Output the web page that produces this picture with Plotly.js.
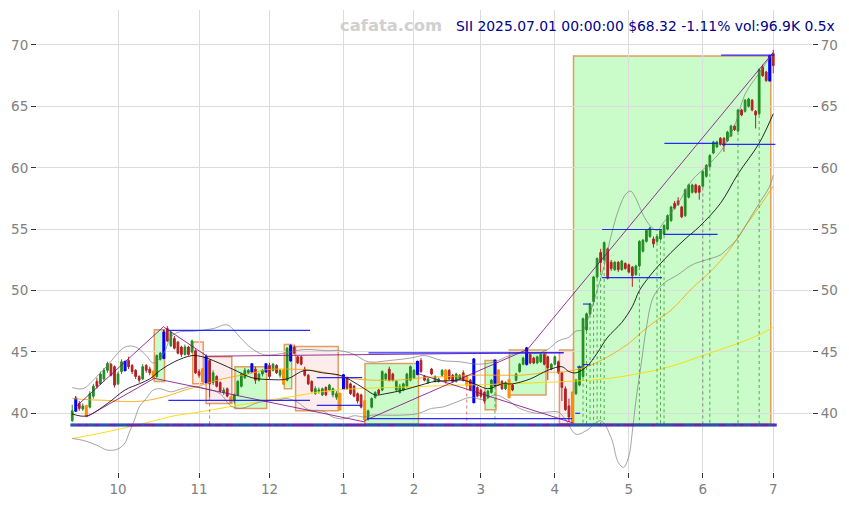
<!DOCTYPE html>
<html><head><meta charset="utf-8">
<script src="https://cdn.plot.ly/plotly-3.0.1.min.js"></script>
<style>html,body{margin:0;padding:0;background:#fff}#chart{width:849px;height:505px}</style>
</head><body><div id="chart"></div>
<script>
// ---- month ticks (trading-day index) ----
const tickPos = [13,36,56,77,97,116,137,158,179,199];
const tickText = ['10','11','12','1','2','3','4','5','6','7'];

// ---- daily OHLC (index 0 = 2024-09-12 ... 199 = 2025-07-01) ----
const opens = [39.4,40.2,40.8,40.35,40.6,40.5,41.4,42.6,42.4,42.8,43.5,44.0,43.8,42.4,43.4,43.5,44.3,43.9,43.5,43.0,
42.8,43.9,43.6,43.4,43.0,44.4,44.5,46.9,45.5,46.1,45.8,45.4,44.8,45.4,45.0,45.1,43.4,43.6,42.5,44.3,
42.5,43.0,42.5,41.7,42.0,41.3,41.0,41.5,42.2,42.9,43.3,43.4,43.6,42.7,43.2,43.4,43.9,43.5,43.9,43.1,
43.5,42.7,44.3,45.4,44.6,44.6,43.6,43.1,42.6,41.6,41.8,41.5,42.1,41.9,41.5,41.3,41.6,42.0,42.9,42.4,
42.2,41.6,41.5,41.0,39.6,40.5,41.3,41.9,41.9,42.8,43.6,43.2,41.9,41.7,41.9,42.2,42.7,42.9,43.2,44.3,
43.0,42.5,43.6,42.6,42.6,43.1,43.5,43.5,43.1,42.6,42.8,43.3,43.0,42.7,40.9,42.1,41.9,41.7,41.3,41.7,
42.3,43.5,42.6,42.0,42.7,42.3,42.7,43.4,44.0,44.0,44.8,44.5,44.1,44.2,44.8,44.6,43.6,44.0,44.2,43.3,
42.0,40.6,39.3,41.6,42.3,43.0,46.8,48.1,49.1,51.1,53.1,52.5,53.4,52.3,51.7,52.3,51.7,52.2,52.1,51.9,
51.3,52.0,53.2,54.0,54.4,54.2,54.0,54.2,54.6,55.0,55.7,57.1,57.3,56.8,56.1,57.6,58.0,58.6,58.5,58.5,
59.3,60.1,61.2,61.7,62.4,62.4,62.2,62.6,63.4,63.0,64.7,64.6,65.0,65.5,64.6,64.4,68.2,67.8,67.1,69.3];
const highs = [40.7,41.4,41.0,40.8,40.7,41.8,42.4,42.9,43.4,43.7,44.2,44.1,43.9,43.4,44.4,44.3,44.6,44.0,43.6,43.1,
44.0,44.0,43.8,43.5,44.8,45.0,46.8,47.1,46.7,46.3,45.9,45.5,45.6,45.5,46.0,45.2,43.6,43.7,44.8,44.4,
43.5,43.1,42.6,42.1,42.1,41.4,41.6,42.7,43.3,43.7,43.6,44.1,43.8,43.3,43.6,44.1,44.1,44.1,44.0,43.6,
43.6,45.4,45.6,45.6,44.7,44.7,43.8,43.2,42.7,42.2,42.1,42.1,42.2,42.4,42.1,41.8,41.7,43.2,43.0,42.5,
42.3,41.7,41.6,41.1,40.3,41.3,41.8,42.0,43.5,43.3,43.8,43.3,42.7,42.4,42.5,43.3,43.9,43.6,44.3,44.5,
43.1,42.9,43.7,43.1,42.9,43.6,43.6,43.6,43.2,43.3,43.2,43.5,43.1,42.8,44.5,42.2,42.0,41.8,41.9,42.8,
44.4,43.6,42.7,42.6,42.8,42.4,43.3,44.1,44.6,45.4,44.9,44.6,44.7,44.9,44.9,44.7,44.1,44.7,44.3,43.4,
42.2,41.2,41.8,42.8,43.9,47.8,48.2,49.0,51.2,52.7,53.4,54.0,53.5,52.5,52.4,52.4,52.5,52.3,52.2,52.0,
52.1,54.1,54.2,55.0,55.2,54.4,54.6,55.0,55.4,56.2,56.9,57.3,57.6,56.9,58.3,58.7,58.7,58.7,58.6,59.8,
60.3,61.1,62.2,62.2,62.5,62.5,63.0,63.5,63.5,64.8,64.8,65.6,65.7,65.6,64.7,68.1,68.4,67.9,69.2,69.6];
const lows = [39.3,40.1,40.2,40.2,39.7,40.4,41.2,42.0,42.3,42.6,43.3,43.0,42.1,42.3,43.2,43.4,43.6,43.2,42.8,42.5,
42.7,43.3,43.1,42.8,42.9,44.3,44.4,45.8,45.4,45.2,44.8,44.6,44.7,44.7,44.9,43.2,42.9,42.5,42.4,41.3,
42.3,42.1,41.7,41.5,41.3,40.8,40.8,41.4,42.1,42.8,43.2,43.3,42.4,42.6,43.0,43.3,42.8,43.4,43.2,42.9,
42.3,42.6,44.2,44.8,44.0,43.9,43.0,42.3,41.7,41.5,41.6,41.4,41.4,41.8,41.3,41.1,40.2,41.9,41.9,41.5,
41.3,40.8,40.4,39.3,39.4,40.4,41.2,41.5,41.8,42.7,42.6,42.6,41.8,41.6,41.8,42.1,42.6,42.8,43.1,43.3,
42.6,42.4,43.1,42.5,42.5,43.0,42.4,42.7,42.5,42.5,42.7,42.6,42.1,41.8,40.8,41.3,41.2,40.8,41.2,41.6,
42.2,42.2,41.9,41.9,41.2,41.8,42.6,43.3,43.9,43.9,44.0,44.0,44.0,44.1,43.9,42.7,43.5,43.9,43.2,41.0,
40.2,39.3,39.1,41.5,42.2,42.9,46.7,48.0,49.0,51.0,51.5,52.4,50.9,51.6,51.6,51.5,51.6,51.7,51.4,50.3,
51.2,51.9,53.1,53.9,54.3,53.5,53.9,54.1,54.5,54.9,55.6,56.6,56.9,55.9,56.0,57.5,57.9,57.9,57.4,58.4,
59.2,60.0,61.1,61.6,61.8,61.3,62.1,62.5,63.0,62.9,64.2,64.5,64.9,64.6,63.2,64.3,67.4,67.0,67.0,67.7];
const closes = [40.2,41.2,40.4,40.6,39.8,41.6,42.2,42.2,43.2,43.5,44.05,43.1,42.3,43.2,44.2,44.2,43.8,43.4,43.0,42.7,
43.8,43.5,43.3,42.9,44.7,44.9,46.6,45.9,46.6,45.3,44.9,44.8,45.4,44.8,45.9,43.3,43.1,42.6,44.6,42.4,
43.3,42.2,41.8,41.9,41.4,40.9,41.5,42.6,43.2,43.5,43.5,44.0,42.7,43.2,43.5,44.0,43.0,44.0,43.3,43.5,
42.4,45.3,45.5,44.9,44.1,44.0,43.1,42.4,41.8,42.0,41.9,42.0,41.5,42.3,42.0,41.6,40.3,43.1,42.0,41.6,
41.4,41.0,40.5,39.5,40.2,41.2,41.7,41.6,43.4,43.2,42.7,42.7,42.6,42.2,42.4,43.2,43.8,43.5,44.2,43.4,
42.7,42.8,43.2,43.0,42.8,43.5,42.6,42.8,42.6,43.2,43.1,42.7,42.3,41.9,44.4,41.4,41.4,41.0,41.8,42.7,
44.3,42.3,42.0,42.5,41.3,41.9,43.2,44.0,44.5,45.3,44.1,44.1,44.6,44.8,44.0,43.7,44.0,44.6,43.3,42.1,
40.3,39.7,41.7,42.7,43.8,47.7,48.1,48.9,51.1,52.6,52.3,53.9,51.0,51.8,52.3,51.7,52.4,51.8,51.5,51.2,
52.0,54.0,54.1,54.9,55.1,53.8,54.4,54.9,55.3,56.1,56.8,56.7,57.0,56.0,58.2,58.6,58.6,58.0,58.0,59.7,
60.2,61.0,62.1,62.1,61.9,61.8,62.9,63.4,63.1,64.7,64.3,65.5,65.6,64.7,64.3,68.0,67.5,67.1,69.09,68.32];

// ---- highlighted candles ----
const blueIdx = [1,15,26,38,51,55,62,77,98,114,120,129,198];
const orangeIdx = [4,23,37,45,60,76,83,106,112,121,124,142];

// ---- indicator lines (read at sample points) ----
const maBlackX = [0,4,10,15,19,22,25,29,34,37,40,44,47,51,56,61,66,71,76,79,83,86,89,94,99,103,107,111,115,118,122,125,130,135,139,141,143,146,149,152,156,159,161,164,167,170,174,178,184,189,195,199];
const maBlackY = [39.95,39.78,40.8,41.9,42.4,42.8,43.5,44.2,44.7,44.6,44.3,43.8,43.4,42.9,42.75,42.8,43.5,43.3,43.1,42.7,42.0,41.5,41.6,41.9,42.3,42.6,42.65,42.7,42.3,42.0,42.4,42.4,42.8,43.5,43.8,43.4,43.3,43.8,44.9,46.2,47.4,48.7,50.0,51.2,52.2,53.1,54.2,55.2,57.1,59.5,62.0,64.4];
const bbUpX = [0,3,7,10,15,18,21,23,26,28,30,35,40,44,47,50,54,58,62,66,72,76,80,84,90,96,100,105,110,115,120,124,128,132,135,138,141,143,145,147,149,151,153,155,157,158.5,160,162,164,166,168,172,176,180,184,188,191,195,199];
const bbUpY = [42.1,42.0,43.0,43.9,45.4,45.4,44.7,44.1,44.9,46.2,46.6,46.7,46.9,47.2,46.4,45.5,44.8,44.8,45.0,45.2,45.1,45.1,44.8,44.2,44.3,44.5,44.7,44.3,44.2,44.0,44.2,44.7,45.0,44.9,45.2,45.9,46.2,46.7,46.8,48.2,50.0,52.0,54.5,56.5,57.8,58.1,57.5,56.2,55.3,54.9,55.6,57.1,59.0,60.1,61.3,63.4,66.0,67.7,69.4];
const bbLoX = [0,3,7,10,13,15,16,17.6,19,21,23,25,28,30,33,35,38,42,45,48,53,58,61,64,67,71,74,77,80,83,85,89,93,98,102,105,109,113,117,120,124,127,132,135,138,140,143,146,150,153,155,156.5,158,159,160,161.5,163,165,168,172,176,180,184,186,188.5,192,195,198,199];
const bbLoY = [37.95,37.8,37.4,37.0,37.1,37.6,38.3,39.4,40.5,41.2,41.9,42.0,41.75,41.9,42.15,42.2,42.0,41.6,40.6,40.4,40.9,41.06,41.2,40.9,40.3,40.2,39.7,39.55,39.8,39.7,39.85,39.85,39.85,39.97,40.4,40.5,40.9,41.3,41.1,41.5,41.0,40.4,40.0,40.1,40.1,39.5,38.3,38.6,39.4,38.0,36.0,35.6,36.5,38.5,41.0,44.0,47.0,49.5,50.6,51.3,52.1,52.5,52.9,53.4,54.1,55.7,57.1,58.5,59.4];
const maOrangeX = [0,5,10,15,20,24,28,32,36,40,45,50,55,62,68,73,79,85,92,98,102,108,114,122,127,131,135,139,143,147,152,158,162,166,170,176,181,186,191,195,199];
const maOrangeY = [41.2,41.1,41.05,40.95,41.0,41.2,41.5,41.9,42.2,42.6,42.95,43.2,43.55,43.6,43.5,43.25,42.85,42.7,42.7,42.85,42.95,43.0,43.1,43.1,43.1,43.2,43.35,43.35,43.55,43.9,44.6,45.7,46.7,47.6,48.4,50.2,51.5,53.1,55.2,56.8,58.5];
const maYellowX = [0,10,20,29,36,44,54,63,72,80,90,100,110,118,128,137,147,155,161,167,173,179,185,190,195,199];
const maYellowY = [37.95,38.5,39.15,39.8,40.1,40.5,41.0,41.4,41.8,42.0,42.1,42.2,42.3,42.35,42.45,42.55,42.7,42.95,43.25,43.6,44.1,44.7,45.3,45.8,46.4,47.0];

// ---- trend lines [x0, y0, x1, y1] ----
const trendLines = [
  [0.9,40.5,26.1,47.1],[4,39.7,23.3,42.85],[26.1,47.0,38,44.7],[38,44.65,139.5,44.95],
  [23.3,42.85,83,39.3],[83,39.4,129.2,45.2],[98.5,43.2,142.3,39.2],[129.2,45.2,199,69.4]
];
// ---- level segments [x0, x1, y] ----
const levels = [
  [27.3,67.5,46.75],[27.3,67.5,41.06],[69.4,82.3,42.9],[69.4,82.3,40.65],
  [84.1,139.5,44.92],[83.6,141.9,39.57],[142.8,144.2,40.0],[143.3,144.7,43.77],
  [144.9,147,43.97],[145,147,48.9],[150.4,167.4,51.06],[150.4,167.4,54.97],
  [167.9,183.2,54.57],[168.1,183.2,61.98],[184.4,199.6,61.9],[184.2,199.3,69.18]
];
// ---- zones [x0, x1, y0, y1, kind] ----
const zones = [
  [23.3,26.2,42.6,46.8,'up'],[34.2,37.2,42.4,45.8,'down'],[38.0,45.3,40.8,44.6,'down'],
  [46.2,55.2,40.4,43.8,'up'],[60.2,62.3,42.0,45.6,'up'],[63.4,75.5,40.2,45.45,'down'],
  [83.1,98.3,39.1,44.05,'up'],[117.2,120.3,40.3,44.3,'up'],[124.1,134.5,41.5,45.15,'up'],
  [138.3,142.3,39.15,45.15,'down'],[142.3,198.3,39.1,69.1,'up']
];
const greenDots = [120,145,146,147,148,149,150,151,161,166,167,168,179,181,189,195];
const redDots = [39,112];
const baseLevel = 39.05;

// ---------------- build ----------------
const idx = closes.map((_, i) => i);
function pick(list) {
  return {x: list, open: list.map(i => opens[i]), high: list.map(i => highs[i]),
          low: list.map(i => lows[i]), close: list.map(i => closes[i])};
}
const special = new Set(blueIdx.concat(orangeIdx));
const normalIdx = idx.filter(i => !special.has(i));

function segTrace(segs, color, width, dash) {
  const x = [], y = [];
  segs.forEach(s => { x.push(s[0], s[1], null); y.push(s[2], s[3], null); });
  return {type: 'scatter', mode: 'lines', x, y, line: {color, width, dash: dash || 'solid'},
          hoverinfo: 'skip', showlegend: false};
}

const traces = [];
traces.push({type:'scatter',mode:'lines',x:maYellowX,y:maYellowY,line:{color:'rgba(255,215,0,0.9)',width:1,shape:'spline'},hoverinfo:'skip',showlegend:false});
traces.push({type:'scatter',mode:'lines',x:maOrangeX,y:maOrangeY,line:{color:'rgba(255,165,0,0.85)',width:1,shape:'spline'},hoverinfo:'skip',showlegend:false});
traces.push({type:'scatter',mode:'lines',x:bbUpX,y:bbUpY,line:{color:'rgba(120,120,120,0.75)',width:0.9,shape:'spline'},hoverinfo:'skip',showlegend:false});
traces.push({type:'scatter',mode:'lines',x:bbLoX,y:bbLoY,line:{color:'rgba(120,120,120,0.75)',width:0.9,shape:'spline'},hoverinfo:'skip',showlegend:false});
traces.push({type:'scatter',mode:'lines',x:maBlackX,y:maBlackY,line:{color:'#111',width:0.9,shape:'spline'},hoverinfo:'skip',showlegend:false});
traces.push(segTrace(trendLines.map(t => [t[0], t[2], t[1], t[3]]), 'rgba(128,0,128,0.8)', 1));

// dotted verticals
traces.push(segTrace(greenDots.map(i => [i, i, lows[i], baseLevel]), 'rgba(34,139,34,0.8)', 0.9, 'dot'));
traces.push(segTrace(redDots.map(i => [i, i, lows[i], baseLevel]), 'rgba(205,60,60,0.8)', 0.9, 'dot'));

// base line and volume markers
traces.push({type:'scatter',mode:'lines',x:[idx[0]-0.5, idx[idx.length-1]+1],y:[baseLevel,baseLevel],line:{color:'rgba(40,40,255,0.95)',width:3},hoverinfo:'skip',showlegend:false});
traces.push({type:'scatter',mode:'markers',x:idx,y:idx.map(() => baseLevel),
  marker:{symbol:'square',size:3,color:idx.map(i => closes[i] >= opens[i] ? 'rgba(34,139,34,0.45)' : 'rgba(178,34,34,0.45)')},
  hoverinfo:'skip',showlegend:false});

// candles
const n = pick(normalIdx);
traces.push(Object.assign({type:'candlestick',
  increasing:{line:{color:'#228b22',width:1},fillcolor:'#228b22'},
  decreasing:{line:{color:'#b22222',width:1},fillcolor:'#b22222'},
  hoverinfo:'skip',showlegend:false}, n));
const b = pick(blueIdx);
traces.push(Object.assign({type:'candlestick',
  increasing:{line:{color:'#0000ff',width:1.3},fillcolor:'#0000ff'},
  decreasing:{line:{color:'#0000ff',width:1.3},fillcolor:'#0000ff'},
  hoverinfo:'skip',showlegend:false}, b));
const o = pick(orangeIdx);
traces.push(Object.assign({type:'candlestick',
  increasing:{line:{color:'#ff8c00',width:1.3},fillcolor:'#ff8c00'},
  decreasing:{line:{color:'#ff8c00',width:1.3},fillcolor:'#ff8c00'},
  hoverinfo:'skip',showlegend:false}, o));

// level segments on top
traces.push(segTrace(levels.map(l => [l[0], l[1], l[2], l[2]]), 'rgba(20,20,255,0.9)', 1.2));

// dummy trace for right axis
traces.push({type:'scatter',mode:'markers',x:[0],y:[50],yaxis:'y2',marker:{opacity:0,size:1},hoverinfo:'skip',showlegend:false});

const shapes = zones.map(z => ({
  type:'rect', xref:'x', yref:'y', x0:z[0], x1:z[1], y0:z[2], y1:z[3], layer:'below',
  fillcolor: z[4] === 'up' ? 'rgba(150,250,150,0.5)' : 'rgba(250,200,200,0.35)',
  line:{color:'rgba(225,140,70,0.85)', width:1.5}
}));

const yr = [35.22, 72.85];
const tickFont = {family:'DejaVu Sans, sans-serif', size:13.5, color:'#808080'};
const layout = {
  width:849, height:505, margin:{l:37,r:37,t:10,b:33},
  paper_bgcolor:'#fff', plot_bgcolor:'#fff', showlegend:false, hovermode:false,
  xaxis:{range:[-10,210], tickvals:tickPos, ticktext:tickText, showgrid:true, gridcolor:'#dcdcdc', gridwidth:1,
         zeroline:false, showline:false, ticks:'outside', ticklen:5, tickcolor:'#333', tickfont:tickFont,
         rangeslider:{visible:false}, fixedrange:true},
  yaxis:{range:yr, dtick:5, tick0:0, showgrid:true, gridcolor:'#dcdcdc', gridwidth:1, zeroline:false,
         showline:false, ticks:'outside', ticklen:5, tickcolor:'#333', tickfont:tickFont, fixedrange:true},
  yaxis2:{range:yr, dtick:5, tick0:0, overlaying:'y', side:'right', showgrid:false, zeroline:false,
          showline:false, ticks:'outside', ticklen:5, tickcolor:'#333', tickfont:tickFont, fixedrange:true},
  shapes:shapes,
  annotations:[
    {xref:'paper', yref:'paper', x:0.3884, y:0.9654, xanchor:'left', yanchor:'middle', showarrow:false,
     text:'<b>cafata.com</b>', font:{family:'DejaVu Sans, sans-serif', size:16.4, color:'#d0d0d0'}},
    {xref:'paper', yref:'paper', x:0.538, y:0.9654, xanchor:'left', yanchor:'middle', showarrow:false,
     text:'SII 2025.07.01 00:00:00 $68.32 -1.11% vol:96.9K 0.5x', font:{family:'DejaVu Sans, sans-serif', size:13.9, color:'#00008b'}}
  ]
};
Plotly.newPlot('chart', traces, layout, {displayModeBar:false, staticPlot:true});
</script>
</body></html>
